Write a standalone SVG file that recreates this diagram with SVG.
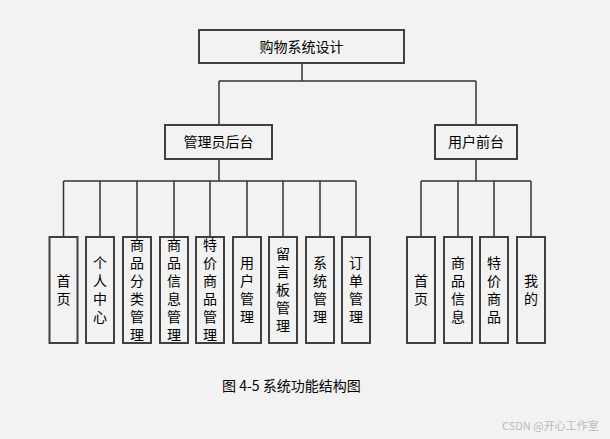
<svg xmlns="http://www.w3.org/2000/svg" width="610" height="439" viewBox="0 0 610 439">
<style>
.bg{fill:#f2f2f2}
.box{fill:#f2f2f2;stroke:#404040;stroke-width:2}
.ln{fill:none;stroke:#333;stroke-width:1.5}
.t{font-family:"Noto Sans CJK SC","Liberation Sans",sans-serif;font-size:14px;fill:#000;text-anchor:middle}
.v{font-family:"Noto Sans CJK SC","Liberation Sans",sans-serif;font-size:14px;fill:#000;text-anchor:middle;writing-mode:vertical-rl;letter-spacing:4px}
.cap{font-family:"Noto Sans CJK SC","Liberation Sans",sans-serif;font-size:14px;fill:#000}
.wm{font-family:"Noto Sans CJK SC","Liberation Sans",sans-serif;font-size:11px;fill:#bbb}
</style>
<rect class="bg" x="0" y="0" width="610" height="439"/>
<g id="connectors">
<path class="ln" d="M302 63V81M219 81H476M219 81V125M476 81V125"/>
<path class="ln" d="M219 159V181M63.5 181H356M63.5 181V237M100 181V237M137 181V237M174 181V237M210 181V237M247 181V237M283 181V237M320 181V237M356 181V237"/>
<path class="ln" d="M476 159V181M421 181H531M421 181V237M458 181V237M494 181V237M531 181V237"/>
</g>
<g id="root"><rect class="box" x="199" y="30" width="205" height="33"/><text class="t" x="301.5" y="52">购物系统设计</text></g>
<g id="admin"><rect class="box" x="165" y="125" width="107" height="34"/><text class="t" x="218.5" y="147">管理员后台</text></g>
<g id="user"><rect class="box" x="435" y="125" width="82" height="34"/><text class="t" x="476" y="147">用户前台</text></g>
<g id="a1"><rect class="box" x="49.5" y="237" width="28" height="106"/><text class="v" x="63.5" y="292">首页</text></g>
<g id="a2"><rect class="box" x="86" y="237" width="28" height="106"/><text class="v" x="100" y="292">个人中心</text></g>
<g id="a3"><rect class="box" x="123" y="237" width="28" height="106"/><text class="v" x="137" y="292">商品分类管理</text></g>
<g id="a4"><rect class="box" x="160" y="237" width="28" height="106"/><text class="v" x="174" y="292">商品信息管理</text></g>
<g id="a5"><rect class="box" x="196" y="237" width="28" height="106"/><text class="v" x="210" y="292">特价商品管理</text></g>
<g id="a6"><rect class="box" x="233" y="237" width="28" height="106"/><text class="v" x="247" y="292">用户管理</text></g>
<g id="a7"><rect class="box" x="269" y="237" width="28" height="106"/><text class="v" x="283" y="292">留言板管理</text></g>
<g id="a8"><rect class="box" x="306" y="237" width="28" height="106"/><text class="v" x="320" y="292">系统管理</text></g>
<g id="a9"><rect class="box" x="342" y="237" width="28" height="106"/><text class="v" x="356" y="292">订单管理</text></g>
<g id="u1"><rect class="box" x="407" y="237" width="28" height="106"/><text class="v" x="421" y="292">首页</text></g>
<g id="u2"><rect class="box" x="444" y="237" width="28" height="106"/><text class="v" x="458" y="292">商品信息</text></g>
<g id="u3"><rect class="box" x="480" y="237" width="28" height="106"/><text class="v" x="494" y="292">特价商品</text></g>
<g id="u4"><rect class="box" x="517" y="237" width="28" height="106"/><text class="v" x="531" y="292">我的</text></g>
<text class="cap" x="222" y="391">图 4-5 系统功能结构图</text>
<text class="wm" x="502" y="430">CSDN @开心工作室</text>
</svg>
